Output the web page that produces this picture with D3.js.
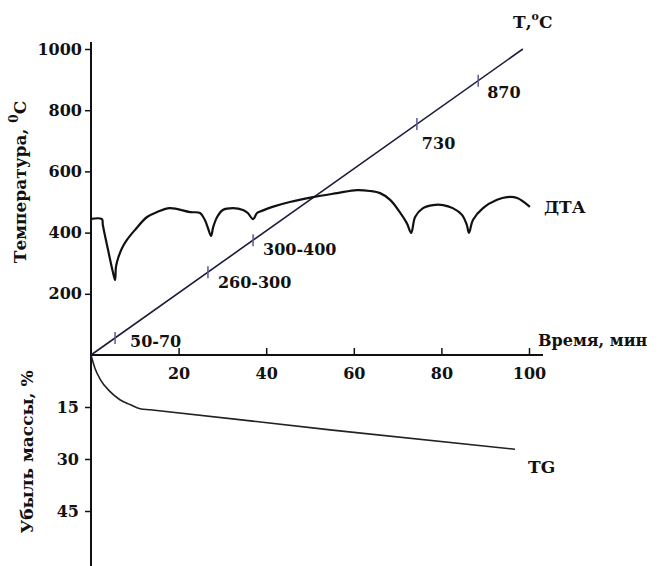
<!DOCTYPE html>
<html>
<head>
<meta charset="utf-8">
<script src="https://cdn.jsdelivr.net/npm/d3@7"></script>
<style>
  html, body { margin: 0; padding: 0; background: #fff; }
  svg { display: block; }
  text { font-family: "DejaVu Serif", "Liberation Serif", serif; font-weight: bold; fill: #111; }
</style>
</head>
<body>
<svg id="chart" width="660" height="566"></svg>
<script>
// ---- data ----
const timeTicks = [20, 40, 60, 80, 100];
const tempTicks = [200, 400, 600, 800, 1000];
const massTicks = [15, 30, 45];

// heating line T(t)
const tLineTime = [0, 98.6];
const tLineTemp = [0, 1000];

// marked points on the heating line (time, min) and labels
const markTimes = [5.5, 26.7, 37, 74.4, 88.4];
const markLabels = ["50-70", "260-300", "300-400", "730", "870"];

// DTA curve (time, min ; drawn in temperature-axis units)
const dtaTime = [0, 2.5, 2.7, 3.9, 5.0, 5.5, 5.7, 6.2, 7.1, 8.2, 10.0, 12.8, 15.1, 18.0, 22.6, 24.9, 26.0, 26.7, 27.4, 27.9, 28.8, 30.1, 32.4, 34.7, 35.8, 37.0, 37.9, 39.0, 41.6, 45.4, 50.7, 56.2, 60.7, 63.7, 66.0, 68.3, 70.5, 72.1, 73.1, 74.0, 75.8, 78.1, 80.4, 82.6, 84.7, 85.8, 86.3, 87.2, 89.5, 92.7, 95.0, 97.3, 100.2];
const dtaValue = [445, 444, 425, 343, 271, 245, 288, 317, 350, 376, 408, 451, 467, 480, 467, 464, 441, 415, 389, 418, 451, 474, 480, 474, 464, 444, 464, 471, 485, 500, 516, 529, 539, 536, 529, 507, 467, 431, 399, 451, 480, 490, 490, 480, 458, 425, 399, 441, 480, 507, 516, 513, 484];

// TG curve (time, min ; mass loss, %)
const tgTime = [0, 0.9, 2.1, 4.3, 6.6, 8.9, 11.2, 13.5, 54.6, 96.8];
const tgLoss = [0, 3.8, 7.0, 10.5, 12.9, 14.3, 15.5, 15.8, 21.6, 27.2];

// ---- scales ----
const svg = d3.select("#chart");
const x = d3.scaleLinear().domain([0, 100]).range([91, 529]);
const yT = d3.scaleLinear().domain([0, 1000]).range([355, 49]);
const yM = d3.scaleLinear().domain([0, 45]).range([355, 511]);
const tOfTime = d3.scaleLinear().domain(tLineTime).range(tLineTemp);

// ---- axes ----
svg.append("line").attr("x1", 91).attr("x2", 91).attr("y1", 42).attr("y2", 566)
  .attr("stroke", "#111").attr("stroke-width", 2);
svg.append("line").attr("x1", 91).attr("x2", 543).attr("y1", yT(0)).attr("y2", yT(0))
  .attr("stroke", "#111").attr("stroke-width", 2);

function styleAxis(g) {
  g.select(".domain").remove();
  g.selectAll(".tick line").attr("stroke", "#111").attr("stroke-width", 1.5);
  g.selectAll(".tick text").attr("font-size", 16).attr("fill", "#111")
    .style("font-family", '"DejaVu Serif", serif').style("font-weight", "bold");
}

svg.append("g").attr("transform", "translate(91,0)")
  .call(d3.axisLeft(yT).tickValues(tempTicks).tickFormat(d3.format("d")).tickSize(6).tickPadding(3))
  .call(styleAxis);
svg.append("g").attr("transform", "translate(91,0)")
  .call(d3.axisLeft(yM).tickValues(massTicks).tickFormat(d3.format("d")).tickSize(6).tickPadding(6))
  .call(styleAxis);
svg.append("g").attr("transform", `translate(0,${yT(0)})`)
  .call(d3.axisBottom(x).tickValues(timeTicks).tickSizeInner(-7).tickSizeOuter(0).tickPadding(13))
  .call(styleAxis);

// ---- heating line ----
const line = d3.line().x(d => x(d[0])).y(d => yT(d[1]));
svg.append("path").datum(d3.zip(tLineTime, tLineTemp))
  .attr("d", line).attr("fill", "none").attr("stroke", "#1c1c3c").attr("stroke-width", 1.6);

// marks on heating line
const markOffsets = [[15, 9], [10, 16], [10, 15], [5, 25], [9, 17]];
markTimes.forEach((t, i) => {
  const px = x(t), py = yT(tOfTime(t));
  svg.append("line").attr("x1", px).attr("x2", px).attr("y1", py - 6).attr("y2", py + 6)
    .attr("stroke", "#5a5a96").attr("stroke-width", 1.5);
  svg.append("text").attr("x", px + markOffsets[i][0]).attr("y", py + markOffsets[i][1])
    .attr("font-size", 16).text(markLabels[i]);
});

// ---- DTA ----
svg.append("path").datum(d3.zip(dtaTime, dtaValue))
  .attr("d", d3.line().x(d => x(d[0])).y(d => yT(d[1])).curve(d3.curveCatmullRom.alpha(0.5)))
  .attr("fill", "none").attr("stroke", "#111").attr("stroke-width", 2.2).attr("stroke-linejoin", "round");

// ---- TG ----
svg.append("path").datum(d3.zip(tgTime, tgLoss))
  .attr("d", d3.line().x(d => x(d[0])).y(d => yM(d[1])).curve(d3.curveMonotoneX))
  .attr("fill", "none").attr("stroke", "#222").attr("stroke-width", 1.6);

// ---- labels ----
const tl = svg.append("text").attr("x", 513).attr("y", 28).attr("font-size", 17);
tl.append("tspan").text("Т,");
tl.append("tspan").attr("font-size", 11).attr("dy", -8).text("o");
tl.append("tspan").attr("dy", 8).text("C");

svg.append("text").attr("x", 544).attr("y", 213).attr("font-size", 17).text("ДТА");
svg.append("text").attr("x", 528).attr("y", 473).attr("font-size", 17).text("TG");
svg.append("text").attr("x", 538).attr("y", 346).attr("font-size", 16).text("Время, мин");

const ytitle = svg.append("text").attr("transform", "translate(26,182) rotate(-90)")
  .attr("text-anchor", "middle").attr("font-size", 17);
ytitle.append("tspan").text("Температура, ");
ytitle.append("tspan").attr("font-size", 12).attr("dy", -8).text("0");
ytitle.append("tspan").attr("dy", 8).text("C");

svg.append("text").attr("transform", "translate(33,452) rotate(-90)")
  .attr("text-anchor", "middle").attr("font-size", 17).text("Убыль массы, %");
</script>
</body>
</html>
